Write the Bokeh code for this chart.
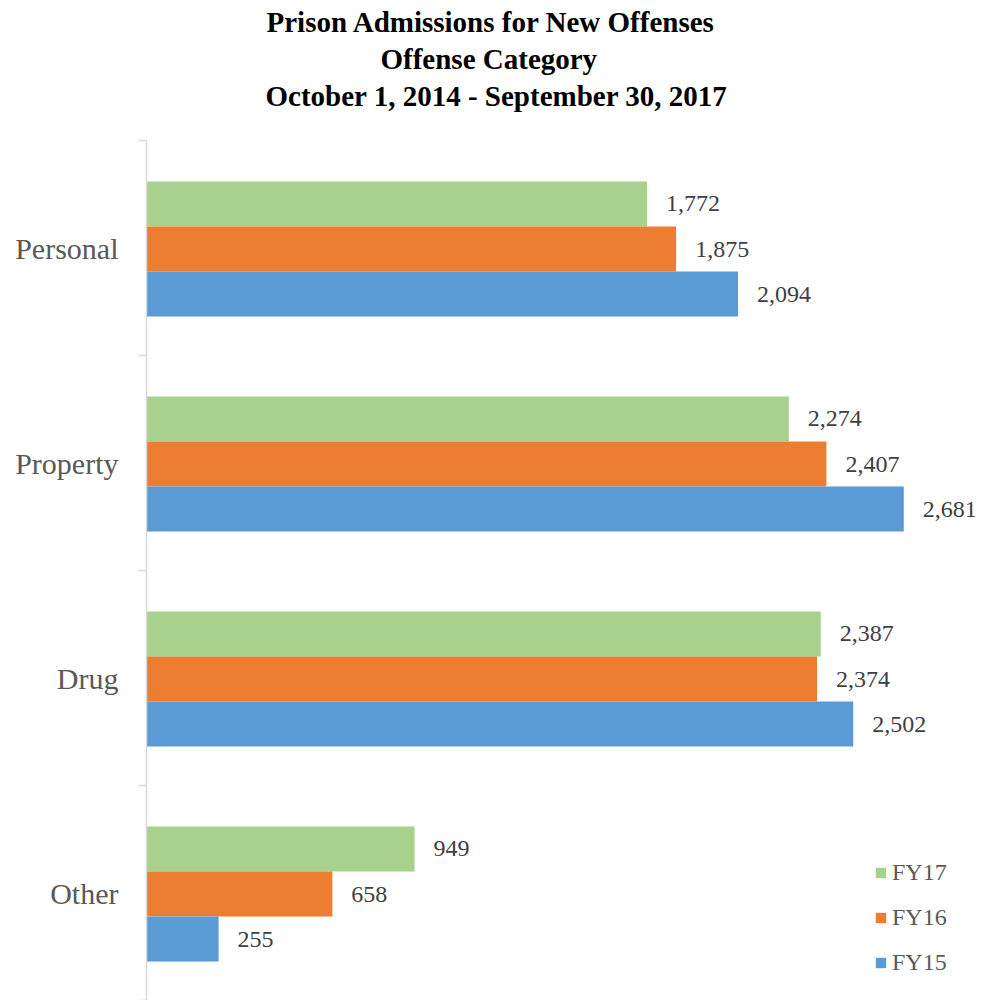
from bokeh.plotting import figure
from bokeh.models import (ColumnDataSource, Range1d, LinearAxis, FixedTicker,
                          Legend, LegendItem, Title)
from bokeh.transform import dodge
from bokeh.core.properties import value
from bokeh.embed import file_html
from bokeh.resources import INLINE

# ---- data ----
categories = ["Personal", "Property", "Drug", "Other"]
fy17 = [1772, 2274, 2387, 949]
fy16 = [1875, 2407, 2374, 658]
fy15 = [2094, 2681, 2502, 255]
series_names = ["FY17", "FY16", "FY15"]
title_lines = ["Prison Admissions for New Offenses",
               "Offense Category",
               "October 1, 2014 - September 30, 2017"]

colors = {"FY17": "#A9D18E", "FY16": "#ED7D31", "FY15": "#5B9BD5"}
offsets = {"FY17": 0.205, "FY16": -0.005, "FY15": -0.214}

n = len(categories)
pos = [n - 1 - i for i in range(n)]

src = ColumnDataSource(dict(
    pos=pos, cat=categories,
    FY17=fy17, FY16=fy16, FY15=fy15,
    FY17_lbl=[f"{v:,}" for v in fy17],
    FY16_lbl=[f"{v:,}" for v in fy16],
    FY15_lbl=[f"{v:,}" for v in fy15],
))

SERIF = "Liberation Serif"

p = figure(width=992, height=1000, output_backend="svg", toolbar_location=None,
           x_range=Range1d(0, 2995), y_range=Range1d(-0.5, n - 0.5),
           x_axis_location=None, y_axis_location=None,
           min_border_left=146, min_border_right=0, min_border_top=140,
           min_border_bottom=0, outline_line_color=None,
           background_fill_color="white", border_fill_color="white")
p.xgrid.visible = False
p.ygrid.visible = False

# spacer between the title block and the plot area
p.add_layout(Title(text=" ", text_font_size="1px", standoff=24), "above")
# title lines (first added is nearest to the plot); left offsets centre them
title_left_offsets = [120, 234, 119]
for line, off in reversed(list(zip(title_lines, title_left_offsets))):
    p.add_layout(Title(text=line, align="left", offset=off, text_font=SERIF,
                       text_font_size="29px", text_font_style="bold",
                       text_color="#000000", standoff=3), "above")

yaxis = LinearAxis(
    ticker=FixedTicker(ticks=pos, minor_ticks=[k - 0.5 for k in range(n + 1)]),
    major_label_overrides={pp: c for pp, c in zip(pos, categories)},
    axis_line_color="#d9d9d9", axis_line_width=1.5,
    major_tick_line_color=None, major_tick_out=0, major_tick_in=0,
    minor_tick_line_color="#d9d9d9", minor_tick_line_width=1.5,
    minor_tick_out=8, minor_tick_in=0,
    major_label_standoff=20,
    major_label_text_font=SERIF, major_label_text_font_size="30px",
    major_label_text_color="#595959",
)
p.add_layout(yaxis, "left")

items = []
for name in series_names:
    r = p.hbar(y=dodge("pos", offsets[name], range=p.y_range), right=name, left=0,
               height=0.209, source=src, fill_color=colors[name], line_color=None)
    p.text(x=name, y=dodge("pos", offsets[name], range=p.y_range), text=name + "_lbl",
           source=src, x_offset=19, text_baseline="middle", text_align="left",
           text_font=value(SERIF), text_font_size=value("24px"), text_color="#404040")
    items.append(LegendItem(label=name, renderers=[r]))

legend = Legend(items=items, location=(728, 24), orientation="vertical",
                glyph_width=13, glyph_height=13, label_standoff=5,
                label_text_font=SERIF, label_text_font_size="24px",
                label_text_color="#595959", label_height=13, spacing=18,
                padding=0, margin=0, border_line_color=None,
                background_fill_alpha=0)
p.add_layout(legend, "center")

open("out.html", "w").write(file_html(p, INLINE))
